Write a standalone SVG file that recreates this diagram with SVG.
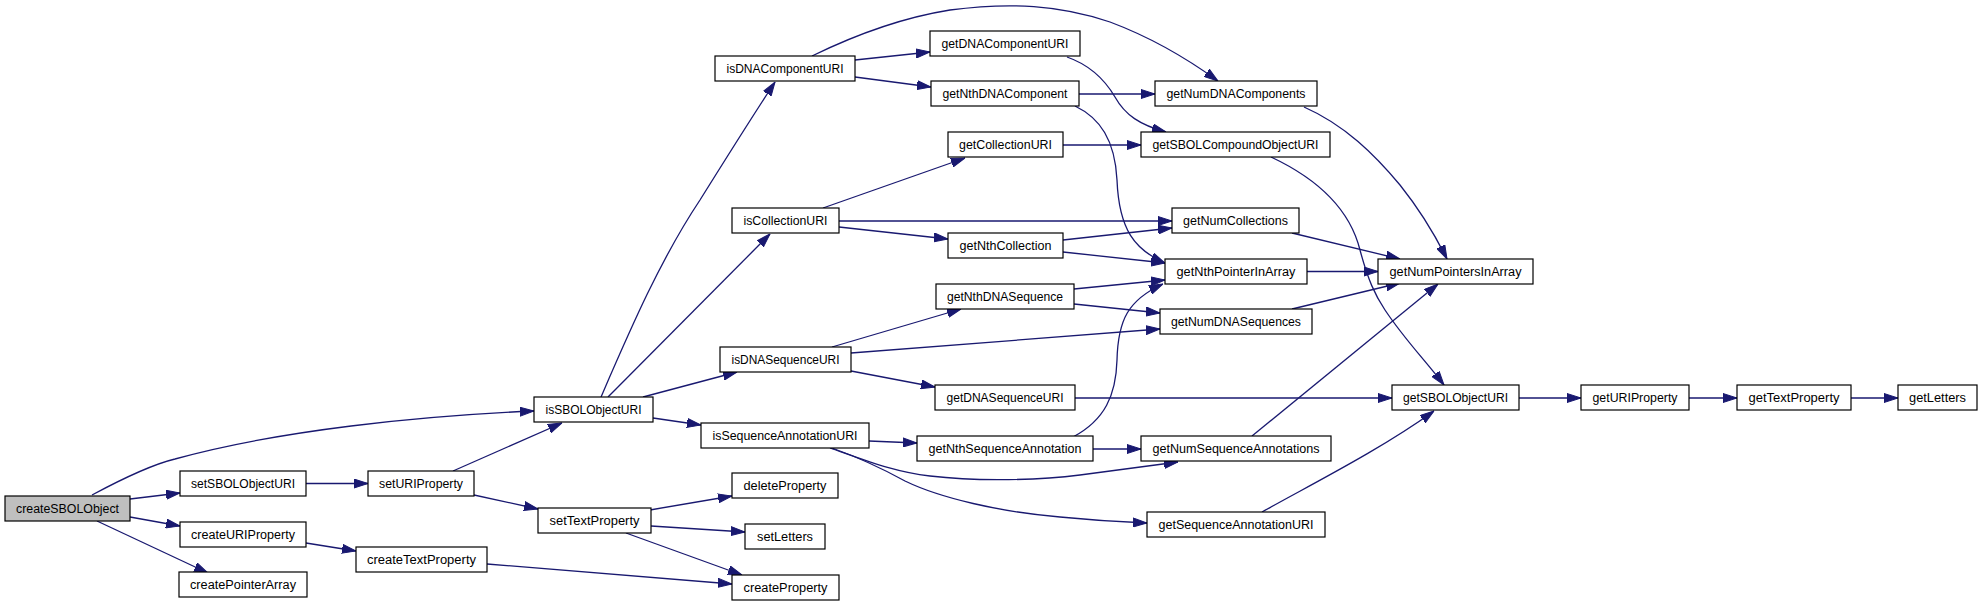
<svg xmlns="http://www.w3.org/2000/svg" width="1983" height="606" viewBox="0 0 1983 606">
<style>
.n rect{fill:#fff;stroke:#000;stroke-width:1.2}
.n.root rect{fill:#bfbfbf}
.n text{font-family:"Liberation Sans",Arial,sans-serif;font-size:12.5px;fill:#000;text-anchor:middle}
#edges path{fill:none;stroke:#191970;stroke-width:1.3;marker-end:url(#ah)}
</style>
<defs>
<marker id="ah" markerUnits="userSpaceOnUse" markerWidth="14" markerHeight="10" refX="14" refY="5" orient="auto">
<path d="M0,0.5 L14,5 L0,9.5 z" fill="#191970" stroke="#191970" stroke-width="1"/>
</marker>
</defs>
<rect width="1983" height="606" fill="#fff"/>
<g id="edges">
<path d="M92,495 C120,480 150,465 175,459 C280,430 420,416 534,411"/>
<path d="M130,499 L180,493"/>
<path d="M130,517 L180,526"/>
<path d="M97,521 L208,573"/>
<path d="M306,483.5 L368,483.5"/>
<path d="M453,471 L562,423"/>
<path d="M474,495 L538,509"/>
<path d="M306,543 L356,551"/>
<path d="M487,564 L732,584"/>
<path d="M650,510 L732,496"/>
<path d="M651,526 L745,532"/>
<path d="M626,533 L742,575"/>
<path d="M601,397 C630,330 660,260 700,200 C725,160 750,120 775,82"/>
<path d="M608,397 L770,234"/>
<path d="M643,397 L737,372"/>
<path d="M653,418 L701,425"/>
<path d="M855,60 L930,52"/>
<path d="M855,77 L931,87"/>
<path d="M812,56 C855,35 900,18 950,10 C1010,2 1060,5 1110,22 C1150,37 1185,57 1218,81"/>
<path d="M1079,94 L1155,94"/>
<path d="M1067,57 C1090,65 1105,80 1115,97 C1125,115 1140,125 1166,132"/>
<path d="M1075,106 C1100,118 1115,140 1117,180 C1119,230 1135,250 1165,263"/>
<path d="M1063,145 L1141,145"/>
<path d="M823,208 L965,158"/>
<path d="M839,221 L1172,221"/>
<path d="M839,227 L948,239"/>
<path d="M1063,240 L1172,228"/>
<path d="M1063,252 L1165,263"/>
<path d="M1074,289 L1165,280"/>
<path d="M1292,233 L1400,259"/>
<path d="M1307,271.5 L1378,271.5"/>
<path d="M1304,107 C1345,125 1375,155 1400,185 C1420,210 1435,235 1447,259"/>
<path d="M1271,157 C1320,180 1350,210 1360,250 C1368,280 1375,295 1385,310 C1405,340 1425,360 1444,385"/>
<path d="M1074,304 L1160,313"/>
<path d="M1292,309 L1400,283"/>
<path d="M832,347 L961,309"/>
<path d="M851,353 L1160,329"/>
<path d="M851,371 L935,387"/>
<path d="M1075,398 L1392,398"/>
<path d="M1073,437 C1105,420 1116,395 1117,360 C1118,320 1128,300 1163,284"/>
<path d="M1093,449 L1141,449"/>
<path d="M1252,436 L1438,284"/>
<path d="M1262,512 C1310,485 1380,450 1434,411"/>
<path d="M869,441 L917,443"/>
<path d="M830,448 C870,462 895,472 930,476 C980,482 1040,480 1080,475 C1120,470 1150,466 1178,462"/>
<path d="M832,448 C860,458 885,470 905,481 C940,498 1000,512 1060,517 C1090,520 1120,522 1147,523"/>
<path d="M1519,398 L1581,398"/>
<path d="M1689,398 L1737,398"/>
<path d="M1851,398 L1898,398"/>
</g>
<g id="createSBOLObject" class="n root"><rect x="5" y="496" width="125" height="25"/><text x="67.5" y="513" textLength="103" lengthAdjust="spacingAndGlyphs">createSBOLObject</text></g>
<g id="setSBOLObjectURI" class="n"><rect x="180" y="471" width="126" height="25"/><text x="243" y="488" textLength="104" lengthAdjust="spacingAndGlyphs">setSBOLObjectURI</text></g>
<g id="setURIProperty" class="n"><rect x="368" y="471" width="106" height="25"/><text x="421" y="488" textLength="84" lengthAdjust="spacingAndGlyphs">setURIProperty</text></g>
<g id="createURIProperty" class="n"><rect x="180" y="522" width="126" height="25"/><text x="243" y="539" textLength="104" lengthAdjust="spacingAndGlyphs">createURIProperty</text></g>
<g id="createTextProperty" class="n"><rect x="356" y="547" width="131" height="25"/><text x="421.5" y="564" textLength="109" lengthAdjust="spacingAndGlyphs">createTextProperty</text></g>
<g id="createPointerArray" class="n"><rect x="179" y="572" width="128" height="25"/><text x="243" y="589" textLength="106" lengthAdjust="spacingAndGlyphs">createPointerArray</text></g>
<g id="isSBOLObjectURI" class="n"><rect x="534" y="397" width="119" height="25"/><text x="593.5" y="414" textLength="96" lengthAdjust="spacingAndGlyphs">isSBOLObjectURI</text></g>
<g id="isDNAComponentURI" class="n"><rect x="715" y="56" width="140" height="25"/><text x="785" y="73" textLength="117" lengthAdjust="spacingAndGlyphs">isDNAComponentURI</text></g>
<g id="isCollectionURI" class="n"><rect x="732" y="208" width="107" height="25"/><text x="785.5" y="225" textLength="84" lengthAdjust="spacingAndGlyphs">isCollectionURI</text></g>
<g id="isDNASequenceURI" class="n"><rect x="720" y="347" width="131" height="25"/><text x="785.5" y="364" textLength="108" lengthAdjust="spacingAndGlyphs">isDNASequenceURI</text></g>
<g id="isSequenceAnnotationURI" class="n"><rect x="701" y="423" width="168" height="25"/><text x="785" y="440" textLength="145" lengthAdjust="spacingAndGlyphs">isSequenceAnnotationURI</text></g>
<g id="deleteProperty" class="n"><rect x="732" y="473" width="106" height="25"/><text x="785" y="490" textLength="83" lengthAdjust="spacingAndGlyphs">deleteProperty</text></g>
<g id="setTextProperty" class="n"><rect x="538" y="508" width="113" height="25"/><text x="594.5" y="525" textLength="90" lengthAdjust="spacingAndGlyphs">setTextProperty</text></g>
<g id="setLetters" class="n"><rect x="745" y="524" width="80" height="25"/><text x="785" y="541" textLength="56" lengthAdjust="spacingAndGlyphs">setLetters</text></g>
<g id="createProperty" class="n"><rect x="732" y="575" width="107" height="25"/><text x="785.5" y="592" textLength="84" lengthAdjust="spacingAndGlyphs">createProperty</text></g>
<g id="getDNAComponentURI" class="n"><rect x="930" y="31" width="150" height="25"/><text x="1005" y="48" textLength="127" lengthAdjust="spacingAndGlyphs">getDNAComponentURI</text></g>
<g id="getNthDNAComponent" class="n"><rect x="931" y="81" width="148" height="25"/><text x="1005" y="98" textLength="125" lengthAdjust="spacingAndGlyphs">getNthDNAComponent</text></g>
<g id="getCollectionURI" class="n"><rect x="948" y="132" width="115" height="25"/><text x="1005.5" y="149" textLength="93" lengthAdjust="spacingAndGlyphs">getCollectionURI</text></g>
<g id="getNthCollection" class="n"><rect x="948" y="233" width="115" height="25"/><text x="1005.5" y="250" textLength="92" lengthAdjust="spacingAndGlyphs">getNthCollection</text></g>
<g id="getNthDNASequence" class="n"><rect x="936" y="284" width="138" height="25"/><text x="1005" y="301" textLength="116" lengthAdjust="spacingAndGlyphs">getNthDNASequence</text></g>
<g id="getDNASequenceURI" class="n"><rect x="935" y="385" width="140" height="25"/><text x="1005" y="402" textLength="117" lengthAdjust="spacingAndGlyphs">getDNASequenceURI</text></g>
<g id="getNthSequenceAnnotation" class="n"><rect x="917" y="436" width="176" height="25"/><text x="1005" y="453" textLength="153" lengthAdjust="spacingAndGlyphs">getNthSequenceAnnotation</text></g>
<g id="getNumDNAComponents" class="n"><rect x="1155" y="81" width="162" height="25"/><text x="1236" y="98" textLength="139" lengthAdjust="spacingAndGlyphs">getNumDNAComponents</text></g>
<g id="getSBOLCompoundObjectURI" class="n"><rect x="1141" y="132" width="189" height="25"/><text x="1235.5" y="149" textLength="166" lengthAdjust="spacingAndGlyphs">getSBOLCompoundObjectURI</text></g>
<g id="getNumCollections" class="n"><rect x="1172" y="208" width="127" height="25"/><text x="1235.5" y="225" textLength="105" lengthAdjust="spacingAndGlyphs">getNumCollections</text></g>
<g id="getNthPointerInArray" class="n"><rect x="1165" y="259" width="142" height="25"/><text x="1236" y="276" textLength="119" lengthAdjust="spacingAndGlyphs">getNthPointerInArray</text></g>
<g id="getNumDNASequences" class="n"><rect x="1160" y="309" width="152" height="25"/><text x="1236" y="326" textLength="130" lengthAdjust="spacingAndGlyphs">getNumDNASequences</text></g>
<g id="getNumSequenceAnnotations" class="n"><rect x="1141" y="436" width="190" height="25"/><text x="1236" y="453" textLength="167" lengthAdjust="spacingAndGlyphs">getNumSequenceAnnotations</text></g>
<g id="getSequenceAnnotationURI" class="n"><rect x="1147" y="512" width="178" height="25"/><text x="1236" y="529" textLength="155" lengthAdjust="spacingAndGlyphs">getSequenceAnnotationURI</text></g>
<g id="getNumPointersInArray" class="n"><rect x="1378" y="259" width="155" height="25"/><text x="1455.5" y="276" textLength="132" lengthAdjust="spacingAndGlyphs">getNumPointersInArray</text></g>
<g id="getSBOLObjectURI" class="n"><rect x="1392" y="385" width="127" height="25"/><text x="1455.5" y="402" textLength="105" lengthAdjust="spacingAndGlyphs">getSBOLObjectURI</text></g>
<g id="getURIProperty" class="n"><rect x="1581" y="385" width="108" height="25"/><text x="1635" y="402" textLength="85" lengthAdjust="spacingAndGlyphs">getURIProperty</text></g>
<g id="getTextProperty" class="n"><rect x="1737" y="385" width="114" height="25"/><text x="1794" y="402" textLength="91" lengthAdjust="spacingAndGlyphs">getTextProperty</text></g>
<g id="getLetters" class="n"><rect x="1898" y="385" width="79" height="25"/><text x="1937.5" y="402" textLength="57" lengthAdjust="spacingAndGlyphs">getLetters</text></g>
</svg>
